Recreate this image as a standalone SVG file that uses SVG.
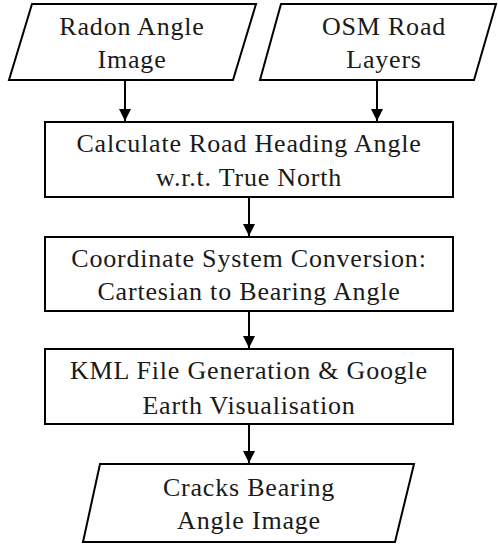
<svg xmlns="http://www.w3.org/2000/svg" width="498" height="545" viewBox="0 0 498 545">
<style>
.s{fill:#fff;stroke:#000;stroke-width:2}
.c{stroke:#000;stroke-width:2;fill:none}
.t{font-family:'Liberation Serif','Times New Roman',serif;font-size:26px;letter-spacing:0.8px;fill:#1a1a1a;text-anchor:middle}
</style>
<defs>
<marker id="ah" markerWidth="12" markerHeight="12" refX="12" refY="6" orient="auto" markerUnits="userSpaceOnUse">
<path d="M0,0 L12,6 L0,12 Z" fill="#000"/>
</marker>
</defs>
<rect width="498" height="545" fill="#fff"/>
<g id="connectors">
<line class="c" x1="125" y1="80" x2="125" y2="121" marker-end="url(#ah)"/>
<line class="c" x1="377" y1="80" x2="377" y2="121" marker-end="url(#ah)"/>
<line class="c" x1="249" y1="197" x2="249" y2="236" marker-end="url(#ah)"/>
<line class="c" x1="249" y1="311" x2="249" y2="348" marker-end="url(#ah)"/>
<line class="c" x1="249" y1="424" x2="249" y2="463" marker-end="url(#ah)"/>
</g>
<g id="radon">
<polygon class="s" points="32,4 256,4 233,80 9,80"/>
<text class="t" x="132" y="35">Radon Angle</text>
<text class="t" x="132" y="68">Image</text>
</g>
<g id="osm">
<polygon class="s" points="281,4 496,4 474,80 260,80"/>
<text class="t" x="384" y="35">OSM Road</text>
<text class="t" x="384" y="68">Layers</text>
</g>
<g id="heading">
<rect class="s" x="45" y="122" width="408" height="75"/>
<text class="t" x="249" y="152">Calculate Road Heading Angle</text>
<text class="t" x="249" y="186">w.r.t. True North</text>
</g>
<g id="conversion">
<rect class="s" x="45" y="237" width="408" height="74"/>
<text class="t" x="249" y="267">Coordinate System Conversion:</text>
<text class="t" x="249" y="300">Cartesian to Bearing Angle</text>
</g>
<g id="kml">
<rect class="s" x="45" y="349" width="408" height="75"/>
<text class="t" x="249" y="379">KML File Generation &amp; Google</text>
<text class="t" x="249" y="414">Earth Visualisation</text>
</g>
<g id="output">
<polygon class="s" points="100,464 414,464 395,542 83,542"/>
<text class="t" x="249" y="496">Cracks Bearing</text>
<text class="t" x="249" y="529">Angle Image</text>
</g>
</svg>
